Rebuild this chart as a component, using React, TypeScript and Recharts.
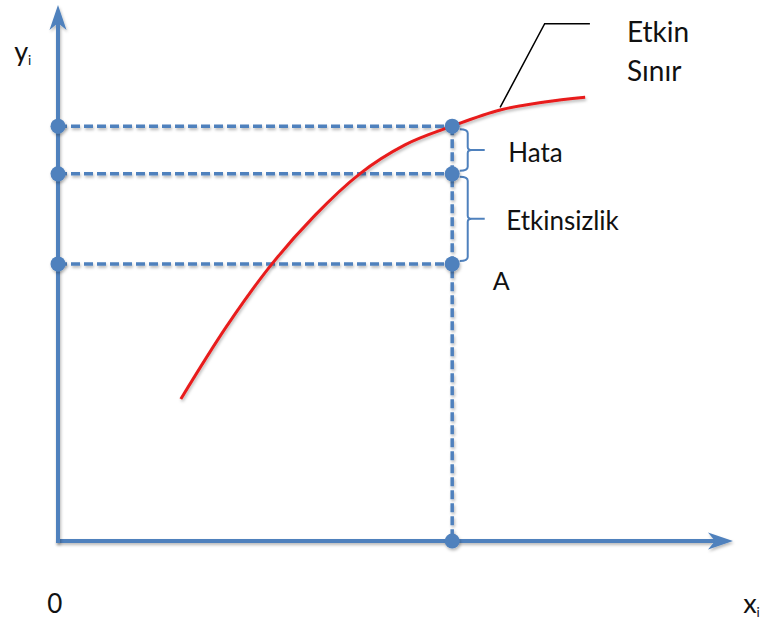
import {
  ComposedChart,
  Line,
  ReferenceDot,
  ReferenceLine,
  Scatter,
  XAxis,
  YAxis,
} from "recharts";

const BLUE = "#4f81bd";
const RED = "#e81c1c";
const FONT = "Lato, 'Open Sans', sans-serif";

// efficient frontier points
const frontierX = [18.2, 24.9, 31.7, 38.1, 44.7, 51.4, 58.4, 65.5, 72.1, 78.1];
const frontierY = [26.5, 39.9, 51.7, 60.8, 68.5, 73.9, 77.4, 80.4, 81.9, 82.8];

// observed unit A and its levels: frontier, middle, actual
const pointAX = 58.4;
const levels = [77.4, 68.5, 51.7];

// callout line to the "Etkin Sınır" label
const leaderX = [65.5, 72.1, 78.8];
const leaderY = [80.9, 96.5, 96.5];

const braceX = 60.7;
const braceLabels = ["Hata", "Etkinsizlik"];

const frontier = frontierX.map((x, i) => ({ x, y: frontierY[i] }));
const leader = leaderX.map((x, i) => ({ x, y: leaderY[i] }));
const dots = [
  ...levels.flatMap((y) => [
    { x: 0, y },
    { x: pointAX, y },
  ]),
  { x: pointAX, y: 0 },
];

type Note = { x: number; y: number; text: string; sub?: string; size: number };

const notes: Note[] = [
  { x: 84.3, y: 93.1, text: "Etkin", size: 28 },
  { x: 84.3, y: 85.8, text: "Sınır", size: 28 },
  { x: 66.7, y: 70.7, text: braceLabels[0], size: 26 },
  { x: 66.4, y: 58.0, text: braceLabels[1], size: 26 },
  { x: 64.4, y: 46.8, text: "A", size: 25 },
  { x: -1.6, y: -13.4, text: "0", size: 26 },
  { x: 101.5, y: -13.4, text: "x", sub: "i", size: 27 },
  { x: -6.5, y: 89.6, text: "y", sub: "i", size: 27 },
];

function ArrowShape(p: any) {
  const { x1, y1, x2, y2 } = p;
  const dx = x2 - x1;
  const dy = y2 - y1;
  const len = Math.hypot(dx, dy);
  const ux = dx / len;
  const uy = dy / len;
  const nx = -uy;
  const ny = ux;
  const L = 25;
  const W = 8.5;
  const notch = 18;
  const bx = x2 - ux * L;
  const by = y2 - uy * L;
  const mx = x2 - ux * notch;
  const my = y2 - uy * notch;
  return (
    <g filter="url(#soft)">
      <line
        x1={x1}
        y1={y1}
        x2={mx}
        y2={my}
        stroke={BLUE}
        strokeWidth={4}
        strokeLinecap="square"
      />
      <path
        d={`M${x2},${y2} L${bx + nx * W},${by + ny * W} L${mx},${my} L${bx - nx * W},${by - ny * W} Z`}
        fill={BLUE}
      />
    </g>
  );
}

function DashShape(p: any) {
  return (
    <line
      x1={p.x1}
      y1={p.y1}
      x2={p.x2}
      y2={p.y2}
      stroke={BLUE}
      strokeWidth={3.5}
      strokeDasharray="9 4"
      filter="url(#soft)"
    />
  );
}

function BraceShape(p: any) {
  const x = p.x1;
  const top = Math.min(p.y1, p.y2) + 3;
  const bot = Math.max(p.y1, p.y2) - 3;
  const mid = (top + bot) / 2;
  const d = [
    `M${x - 8},${top} Q${x},${top} ${x},${top + 4}`,
    `L${x},${mid - 3} Q${x},${mid} ${x + 4},${mid} L${x + 17},${mid}`,
    `M${x + 4},${mid} Q${x},${mid} ${x},${mid + 3}`,
    `L${x},${bot - 4} Q${x},${bot} ${x - 8},${bot}`,
  ].join(" ");
  return <path d={d} fill="none" stroke={BLUE} strokeWidth={2} />;
}

function NoteShape(note: Note) {
  return (p: any) => (
    <text
      x={p.cx}
      y={p.cy}
      fontFamily={FONT}
      fontSize={note.size}
      fill="#111"
    >
      {note.text}
      {note.sub && (
        <tspan fontSize={note.size * 0.5} dy={4}>
          {note.sub}
        </tspan>
      )}
    </text>
  );
}

export default function App() {
  return (
    <div style={{ position: "absolute", left: 0, top: 0, background: "#fff" }}>
      <ComposedChart
        width={762}
        height={620}
        margin={{ top: 5, right: 29, bottom: 79, left: 58 }}
      >
        <defs>
          <filter
            id="soft"
            filterUnits="userSpaceOnUse"
            x={0}
            y={0}
            width={762}
            height={620}
          >
            <feDropShadow
              dx={1}
              dy={2}
              stdDeviation={1.5}
              floodColor="#000"
              floodOpacity={0.28}
            />
          </filter>
        </defs>
        <XAxis type="number" dataKey="x" domain={[0, 100]} hide />
        <YAxis type="number" dataKey="y" domain={[0, 100]} hide />

        {/* dashed guides from the axis to point A */}
        {levels.map((y, i) => (
          <ReferenceLine
            key={`h${i}`}
            segment={[
              { x: 0, y },
              { x: pointAX, y },
            ]}
            ifOverflow="visible"
            shape={DashShape}
          />
        ))}
        <ReferenceLine
          segment={[
            { x: pointAX, y: levels[0] },
            { x: pointAX, y: 0 },
          ]}
          ifOverflow="visible"
          shape={DashShape}
        />

        {/* axes with arrow heads */}
        <ReferenceLine
          segment={[
            { x: 0, y: 0 },
            { x: 100, y: 0 },
          ]}
          ifOverflow="visible"
          shape={ArrowShape}
        />
        <ReferenceLine
          segment={[
            { x: 0, y: 0 },
            { x: 0, y: 100 },
          ]}
          ifOverflow="visible"
          shape={ArrowShape}
        />

        {/* braces */}
        {[0, 1].map((i) => (
          <ReferenceLine
            key={`b${i}`}
            segment={[
              { x: braceX, y: levels[i] },
              { x: braceX, y: levels[i + 1] },
            ]}
            ifOverflow="visible"
            shape={BraceShape}
          />
        ))}

        <Line
          data={leader}
          dataKey="y"
          type="linear"
          stroke="#000"
          strokeWidth={1.5}
          dot={false}
          activeDot={false}
          isAnimationActive={false}
        />
        <Line
          data={frontier}
          dataKey="y"
          type="monotone"
          stroke={RED}
          strokeWidth={3}
          dot={false}
          activeDot={false}
          filter="url(#soft)"
          isAnimationActive={false}
        />
        <Scatter
          data={dots}
          fill={BLUE}
          isAnimationActive={false}
          shape={(p: any) => (
            <circle cx={p.cx} cy={p.cy} r={7.5} fill={BLUE} filter="url(#soft)" />
          )}
        />

        {notes.map((n, i) => (
          <ReferenceDot
            key={`n${i}`}
            x={n.x}
            y={n.y}
            r={0}
            ifOverflow="visible"
            shape={NoteShape(n)}
          />
        ))}
      </ComposedChart>
    </div>
  );
}
